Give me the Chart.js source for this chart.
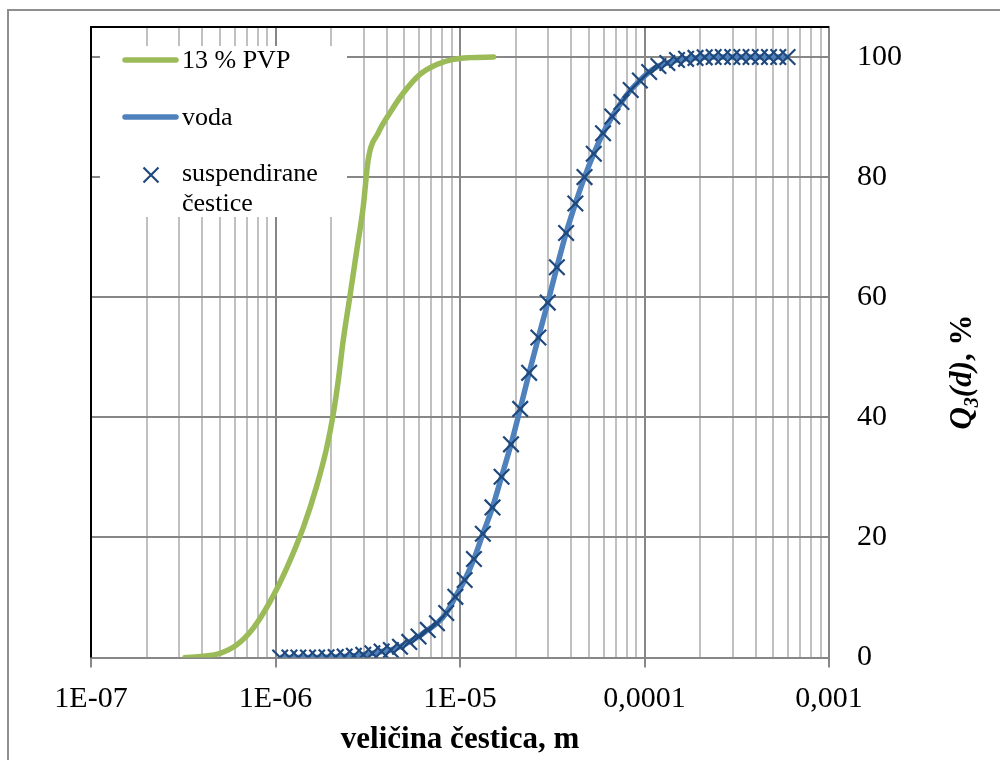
<!DOCTYPE html>
<html>
<head>
<meta charset="utf-8">
<script src="https://cdn.jsdelivr.net/npm/chart.js@4/dist/chart.umd.min.js"></script>
<style>
  html, body { margin: 0; padding: 0; background: #fff; }
  canvas { display: block; }
</style>
</head>
<body>
<canvas id="psdCanvas" width="1000" height="760"></canvas>
<script>
// 13 % PVP: veličina čestica (m) i kumulativna raspodjela Q3 (%)
const sizesPVP = [3.23e-7, 4.06e-7, 5.00e-7, 6.16e-7, 7.58e-7, 9.34e-7, 1.15e-6, 1.42e-6,
  1.67e-6, 1.90e-6, 2.06e-6, 2.19e-6, 2.33e-6, 2.53e-6, 2.76e-6, 2.99e-6, 3.18e-6, 3.61e-6,
  4.17e-6, 4.93e-6, 6.07e-6, 7.48e-6, 9.20e-6, 1.13e-5, 1.52e-5];
const q3PVP = [0, 0.2, 0.7, 2.1, 4.9, 9.3, 14.9, 21.8, 28.5, 35.1, 40.7, 46.2, 52.9, 60.1,
  67.9, 75.1, 82.9, 87.4, 90.7, 94.0, 97.1, 98.75, 99.6, 99.9, 100];

// voda / suspendirane čestice
const sizesVoda = [
  1.06e-6, 1.19e-6, 1.33e-6, 1.50e-6, 1.68e-6, 1.89e-6, 2.12e-6, 2.37e-6, 2.66e-6, 2.99e-6,
  3.35e-6, 3.76e-6, 4.22e-6, 4.73e-6, 5.31e-6, 5.96e-6, 6.69e-6, 7.50e-6, 8.42e-6, 9.44e-6,
  1.06e-5, 1.19e-5, 1.33e-5, 1.50e-5, 1.68e-5, 1.89e-5, 2.12e-5, 2.37e-5, 2.66e-5, 2.99e-5,
  3.35e-5, 3.76e-5, 4.22e-5, 4.73e-5, 5.31e-5, 5.96e-5, 6.69e-5, 7.50e-5, 8.42e-5, 9.44e-5,
  1.06e-4, 1.19e-4, 1.33e-4, 1.50e-4, 1.68e-4, 1.89e-4, 2.12e-4, 2.37e-4, 2.66e-4, 2.99e-4,
  3.35e-4, 3.76e-4, 4.22e-4, 4.73e-4, 5.31e-4, 5.96e-4];
const q3Voda = [
  0, 0, 0, 0, 0, 0.03, 0.08, 0.15, 0.3, 0.45,
  0.7, 1.0, 1.25, 1.8, 2.6, 3.5, 4.6, 5.7, 7.4, 10.1,
  12.9, 16.4, 20.6, 25.0, 30.1, 35.5, 41.4, 47.4, 53.3, 59.1,
  65.0, 70.7, 75.6, 80.0, 83.9, 87.3, 90.1, 92.5, 94.5, 96.1,
  97.5, 98.5, 99.0, 99.5, 99.7, 99.85, 99.95, 100, 100, 100,
  100, 100, 100, 100, 100, 100];
const q3Cestice = [
  0, 0, 0, 0, 0, 0.03, 0.08, 0.15, 0.3, 0.45,
  0.7, 1.0, 1.25, 1.8, 2.6, 3.5, 4.6, 5.7, 7.4, 10.1,
  12.9, 16.4, 20.6, 25.0, 30.1, 35.5, 41.4, 47.4, 53.3, 59.1,
  65.0, 70.7, 75.6, 80.0, 83.9, 87.3, 90.1, 92.5, 94.5, 96.1,
  97.5, 98.5, 99.0, 99.5, 99.7, 99.85, 99.95, 100, 100, 100,
  100, 100, 100, 100, 100, 100];

const xDecades = [-7, -6, -5, -4, -3];
const xTickLabels = ['1E-07', '1E-06', '1E-05', '0,0001', '0,001'];
const yTicks = [0, 20, 40, 60, 80, 100];

const FONT = '"Liberation Serif", "Times New Roman", serif';
const GRID_DARK = '#878787';
const GRID_LIGHT = '#c0c0c0';
const GREEN = '#9bbb59';
const BLUE = '#4f81bd';
const NAVY = '#1f497d';

const toPoints = (xs, ys) => xs.map((x, i) => ({ x: x, y: ys[i] }));
const decadeOf = v => {
  const e = Math.log10(v);
  return Math.abs(e - Math.round(e)) < 1e-9 ? Math.round(e) : null;
};

function drawCross(ctx, x, y, r) {
  ctx.beginPath();
  ctx.moveTo(x - r, y - r); ctx.lineTo(x + r, y + r);
  ctx.moveTo(x - r, y + r); ctx.lineTo(x + r, y - r);
  ctx.stroke();
}

const decor = {
  id: 'decor',
  beforeDatasetsDraw(chart) {
    const { ctx, chartArea: a } = chart;
    ctx.save();
    // black frame on top and left of the plot area
    ctx.strokeStyle = '#000';
    ctx.lineWidth = 2;
    ctx.beginPath();
    ctx.moveTo(a.left, a.bottom);
    ctx.lineTo(a.left, a.top);
    ctx.lineTo(a.right, a.top);
    ctx.stroke();

    // legend box inside the plot
    ctx.fillStyle = '#fff';
    ctx.fillRect(100, 46, 247, 171);
    const ds = chart.data.datasets;
    ctx.lineCap = 'round';
    ctx.lineWidth = 5.5;
    ctx.strokeStyle = ds[2].borderColor;
    ctx.beginPath(); ctx.moveTo(125, 60); ctx.lineTo(176, 60); ctx.stroke();
    ctx.strokeStyle = ds[1].borderColor;
    ctx.beginPath(); ctx.moveTo(125, 117); ctx.lineTo(176, 117); ctx.stroke();
    ctx.lineCap = 'butt';
    ctx.lineWidth = 2.2;
    ctx.strokeStyle = ds[0].borderColor;
    drawCross(ctx, 151, 175, 7.5);

    ctx.fillStyle = '#000';
    ctx.font = '26px ' + FONT;
    ctx.textAlign = 'left';
    ctx.textBaseline = 'middle';
    ctx.fillText(ds[2].label, 182, 61.5);
    ctx.fillText(ds[1].label, 182, 118.5);
    ctx.fillText('suspendirane', 182, 174.5);
    ctx.fillText('čestice', 182, 204);
    ctx.restore();
  },
  afterDraw(chart) {
    const { ctx, chartArea: a } = chart;
    ctx.save();
    // outer frame
    ctx.strokeStyle = '#8e8e8e';
    ctx.lineWidth = 2;
    ctx.beginPath();
    ctx.moveTo(8, 760); ctx.lineTo(8, 10); ctx.lineTo(1000, 10);
    ctx.stroke();

    // x axis title
    ctx.fillStyle = '#000';
    ctx.font = 'bold 31px ' + FONT;
    ctx.textAlign = 'center';
    ctx.textBaseline = 'alphabetic';
    ctx.fillText('veličina čestica, m', (a.left + a.right) / 2, 748);

    // y axis title: Q3(d), % with subscript
    const big = 'italic bold 31px ' + FONT;
    const sub = 'italic bold 20px ' + FONT;
    const parts = [
      { t: 'Q', f: big, dy: 0 },
      { t: '3', f: sub, dy: 7 },
      { t: '(d)', f: big, dy: 0 },
      { t: ', %', f: 'bold 31px ' + FONT, dy: 0 }
    ];
    let total = 0;
    parts.forEach(p => { ctx.font = p.f; p.w = ctx.measureText(p.t).width; total += p.w; });
    ctx.translate(971, 372);
    ctx.rotate(-Math.PI / 2);
    ctx.textAlign = 'left';
    let x = -total / 2;
    parts.forEach(p => {
      ctx.font = p.f;
      ctx.fillText(p.t, x, p.dy);
      x += p.w;
    });
    ctx.restore();
  }
};

new Chart(document.getElementById('psdCanvas'), {
  type: 'scatter',
  data: {
    datasets: [
      {
        label: 'suspendirane čestice',
        data: toPoints(sizesVoda, q3Cestice),
        showLine: false,
        pointStyle: 'crossRot',
        pointRadius: 11,
        borderColor: NAVY,
        backgroundColor: NAVY,
        borderWidth: 2.2,
        order: 0
      },
      {
        label: 'voda',
        data: toPoints(sizesVoda, q3Voda),
        showLine: true,
        borderColor: BLUE,
        borderWidth: 5.5,
        pointRadius: 0,
        cubicInterpolationMode: 'monotone',
        order: 1
      },
      {
        label: '13 % PVP',
        data: toPoints(sizesPVP, q3PVP),
        showLine: true,
        borderColor: GREEN,
        borderWidth: 5.5,
        pointRadius: 0,
        cubicInterpolationMode: 'monotone',
        borderCapStyle: 'round',
        order: 2
      }
    ]
  },
  options: {
    responsive: false,
    animation: false,
    layout: { padding: { left: 91, top: 27, right: 0, bottom: 0 } },
    plugins: {
      legend: { display: false },
      tooltip: { enabled: false }
    },
    scales: {
      x: {
        type: 'logarithmic',
        min: 1e-7,
        max: 1e-3,
        afterBuildTicks: scale => {
          const ticks = [];
          for (let d = -7; d < -3; d++) {
            for (let m = 1; m <= 9; m++) ticks.push({ value: m * Math.pow(10, d) });
          }
          ticks.push({ value: 1e-3 });
          scale.ticks = ticks;
        },
        afterFit: scale => {
          scale.height = 102.5;
          scale.paddingLeft = 0;
          scale.paddingRight = 0;
        },
        border: { color: GRID_DARK, width: 2 },
        grid: {
          color: c => decadeOf(c.tick.value) !== null ? GRID_DARK : GRID_LIGHT,
          lineWidth: 2,
          tickLength: 10,
          tickColor: c => decadeOf(c.tick.value) !== null ? GRID_DARK : 'rgba(0,0,0,0)'
        },
        ticks: {
          autoSkip: false,
          maxRotation: 0,
          padding: 14,
          color: '#000',
          font: { family: FONT, size: 30 },
          callback: value => {
            const d = decadeOf(value);
            const i = xDecades.indexOf(d);
            return i >= 0 ? xTickLabels[i] : '';
          }
        }
      },
      y: {
        position: 'right',
        min: 0,
        max: 105,
        afterBuildTicks: scale => { scale.ticks = yTicks.map(v => ({ value: v })); },
        afterFit: scale => {
          scale.width = 171;
          scale.paddingTop = 0;
          scale.paddingBottom = 0;
        },
        border: { color: GRID_DARK, width: 2 },
        grid: { color: GRID_DARK, lineWidth: 2, drawTicks: false },
        ticks: {
          padding: 28,
          color: '#000',
          font: { family: FONT, size: 30 }
        }
      }
    }
  },
  plugins: [decor]
});
</script>
</body>
</html>
